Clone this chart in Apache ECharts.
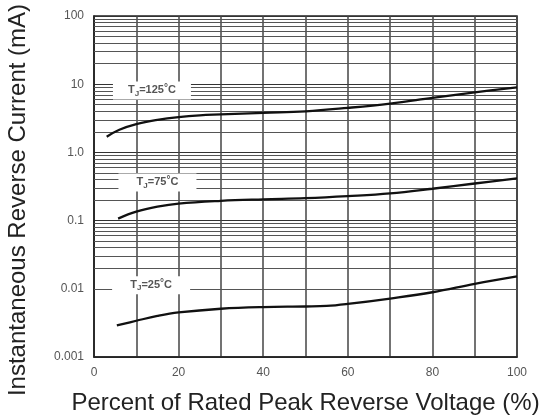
<!DOCTYPE html>
<html>
<head>
<meta charset="utf-8">
<script src="https://cdn.jsdelivr.net/npm/echarts@6/dist/echarts.min.js"></script>
<style>html,body{margin:0;padding:0;background:#fff}#c{width:558px;height:420px}</style>
</head>
<body>
<div id="c"></div>
<script>
// Curve data: [percent of rated voltage, reverse current mA]
var x125 = [3, 6, 10, 15, 20, 25, 30, 40, 50, 60, 70, 80, 90, 100];
var y125 = [1.7, 2.15, 2.6, 3.0, 3.3, 3.5, 3.6, 3.8, 4.0, 4.5, 5.2, 6.3, 7.6, 9.0];
var x75 = [5.7, 10, 15, 20, 30, 40, 50, 60, 70, 80, 90, 100];
var y75 = [0.107, 0.135, 0.16, 0.178, 0.195, 0.205, 0.213, 0.228, 0.25, 0.293, 0.35, 0.415];
var x25 = [5.4, 10, 15, 20, 30, 40, 50, 55, 60, 70, 80, 90, 100];
var y25 = [0.0029, 0.0034, 0.0040, 0.0045, 0.0051, 0.0054, 0.0055, 0.0056, 0.006, 0.0072, 0.0089, 0.0118, 0.0152];

var yTickLabels = ['0.001', '0.01', '0.1', '1.0', '10', '100'];
var xTickLabels = ['0', '20', '40', '60', '80', '100'];

// Annotation labels: temperature, x %, y mA
var tempLabels = ['125', '75', '25'];
var labelX = [13.7, 15, 13.5];
var labelY = [8.1, 0.363, 0.0113];

var minorMultipliers = [2, 3, 4, 5, 6, 7, 8, 9];
var decadeExponents = [-3, -2, -1, 0, 1];

function pairs(xs, ys) { return xs.map(function (x, i) { return [x, ys[i]]; }); }

var minorLines = [];
decadeExponents.forEach(function (e) {
  minorMultipliers.forEach(function (m) {
    minorLines.push({ yAxis: Number((m * Math.pow(10, e)).toPrecision(3)) });
  });
});

var chart = echarts.init(document.getElementById('c'), null, { renderer: 'canvas' });

var curveStyle = { color: '#111', width: 2.3 };

chart.setOption({
  animation: false,
  backgroundColor: '#fff',
  grid: { left: 94, top: 16, right: 41, bottom: 63, containLabel: false, outerBoundsMode: 'none', show: true, borderColor: '#222', borderWidth: 1.5, backgroundColor: 'transparent' },
  xAxis: {
    type: 'value', min: 0, max: 100, interval: 10,
    name: 'Percent of Rated Peak Reverse Voltage (%)',
    nameLocation: 'middle', nameGap: 34,
    nameTextStyle: { fontFamily: 'Liberation Sans, Arial', fontSize: 24, color: '#222' },
    axisLine: { show: true, lineStyle: { color: '#222', width: 1.5 } },
    axisTick: { show: false },
    axisLabel: {
      margin: 10, color: '#555', fontFamily: 'Liberation Sans, Arial', fontSize: 12,
      formatter: function (v) { var i = xTickLabels.indexOf(String(Math.round(v))); return i >= 0 ? xTickLabels[i] : ''; }
    },
    splitLine: { show: true, lineStyle: { color: '#444', width: 1.5 } }
  },
  yAxis: {
    type: 'log', logBase: 10, min: 0.001, max: 100,
    axisLine: { show: true, lineStyle: { color: '#222', width: 1.5 } },
    axisTick: { show: false },
    axisLabel: {
      margin: 10, color: '#555', fontFamily: 'Liberation Sans, Arial', fontSize: 12,
      formatter: function (v) { var k = Math.round(Math.log10(v)) + 3; return yTickLabels[k] || ''; }
    },
    splitLine: { show: true, lineStyle: { color: '#333', width: 1.2 } },
    minorTick: { show: false }, minorSplitLine: { show: false }
  },
  graphic: [{
    type: 'text', x: 18, y: 200, rotation: Math.PI / 2,
    style: { text: 'Instantaneous Reverse Current (mA)', fontFamily: 'Liberation Sans, Arial', fontSize: 24, fill: '#222', textAlign: 'center', textVerticalAlign: 'middle' }
  }],
  series: [
    {
      type: 'line', name: 'grid', data: [], z: 1, silent: true,
      markLine: { silent: true, symbol: 'none', label: { show: false }, animation: false,
        lineStyle: { color: '#555', width: 1.1, type: 'solid' }, data: minorLines }
    },
    { type: 'line', name: 'TJ=125°C', data: pairs(x125, y125), smooth: 0.4, showSymbol: false, lineStyle: curveStyle, z: 5 },
    { type: 'line', name: 'TJ=75°C', data: pairs(x75, y75), smooth: 0.4, showSymbol: false, lineStyle: curveStyle, z: 5 },
    { type: 'line', name: 'TJ=25°C', data: pairs(x25, y25), smooth: 0.4, showSymbol: false, lineStyle: curveStyle, z: 5 },
    {
      type: 'line', name: 'labels', data: [], z: 6, silent: true,
      markPoint: {
        silent: true, animation: false,
        symbol: 'rect', symbolSize: [78, 18],
        itemStyle: { color: '#fff' },
        label: {
          show: true, position: 'inside',
          rich: {
            t: { fontFamily: 'Liberation Sans, Arial', fontSize: 11, fontWeight: 'bold', color: '#555' },
            s: { fontFamily: 'Liberation Sans, Arial', fontSize: 8, fontWeight: 'bold', color: '#555', verticalAlign: 'bottom', padding: [4, 0, 0, 0] },
            d: { fontFamily: 'Liberation Sans, Arial', fontSize: 10, fontWeight: 'bold', color: '#555', verticalAlign: 'top', padding: [0, 0, 4, 0] }
          }
        },
        data: tempLabels.map(function (t, i) {
          return { coord: [labelX[i], labelY[i]], label: { formatter: '{t|T}{s|J}{t|=' + t + '}{d|°}{t|C}' } };
        })
      }
    }
  ]
});
</script>
</body>
</html>
